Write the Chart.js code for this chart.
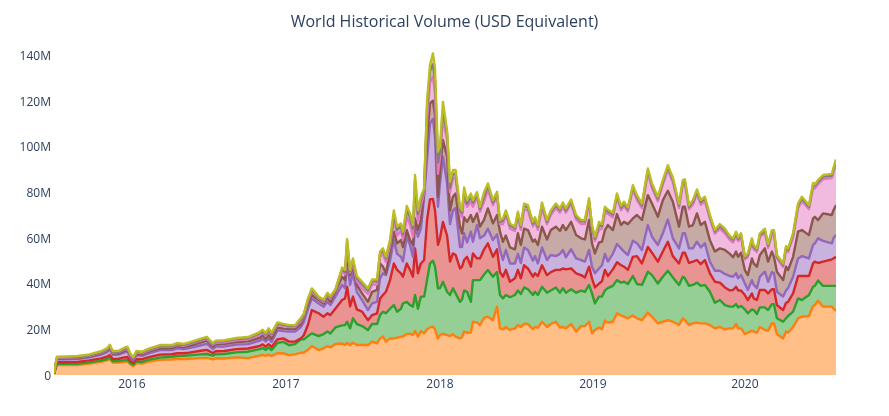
<!DOCTYPE html>
<html>
<head>
<meta charset="utf-8">
<script src="https://cdn.jsdelivr.net/npm/chart.js@4/dist/chart.umd.min.js"></script>
<style>html,body{margin:0;padding:0;background:#fff}canvas{display:block}</style>
</head>
<body>
<canvas id="c" width="889" height="416" style="width:889px;height:416px"></canvas>
<script>
const chartTitle = 'World Historical Volume (USD Equivalent)';
const yearLabels = ['2016','2017','2018','2019','2020'];
const yearWeeks = [26.5,78.9,131.3,183.3,235];
const weeks = [
0,1,4,8,12,16,18,19,20,22,
24,25,26,27,28,30,32,36,40,42,
44,46,50,52,54,55,58,62,66,70,
71,72,73,74,76,78,80,82,84,85,
86.4,87.7,90,91.7,93,94,95.7,98,99,99.7,
100.7,101.7,103,104.8,106.8,108.2,109.9,110.9,111.9,112.9,
114.3,115.6,116.7,118,118.7,120,121.1,122.1,122.8,123.8,
124.8,125.9,126.9,127.9,128.9,129.6,130.6,131.3,132.3,133.7,
134.7,135.7,136.6,138.1,138.8,139.5,140.5,141.8,142.5,143.9,
144.9,146.3,147.6,149.3,150.7,151.7,152.7,153.7,155.1,156.8,
157.8,158.8,159.9,161.2,162.9,163.6,164.6,166,167.7,169,
170.7,172.1,173.1,174.1,175.9,177.6,179.3,180.6,182,183,
184,185.4,186.4,187.4,188.4,190.1,191.5,192.9,193.9,195.2,
196.9,198.3,200,202,203.4,205.4,207.1,208.8,210.5,212.6,
213.9,214.6,216,217.3,218.7,220,221.4,223.1,224.8,226.5,
228.2,229.9,231,232,232.7,233.7,235,236,237.4,238,
239.1,240.1,241.8,242.9,244.2,244.9,245.9,248,249,249.7,
251.4,253.1,254.4,256.8,258.2,258.8,259.9,261.6,264.6,265.1,266];
const orange = [
0.4,4.4,4.4,4.4,5.0,5.8,6.4,6.9,5.4,5.4,
5.8,5.9,4.6,3.9,5.2,5.0,5.8,6.6,6.8,7.0,
7.0,7.1,7.4,7.5,6.8,7.3,7.2,7.7,7.4,8.5,
8.8,8.4,8.9,8.3,9.5,9.5,8.7,9.0,9.8,9.8,
11,12.7,10.9,11.7,12.7,12,13.6,13.8,13.1,14.1,
13,14.1,13.1,13.1,13.1,14.6,13.8,16,16.8,14.6,
16,16,16.3,16.8,16.8,18,18,17.5,19.2,16.8,
19.2,18.2,20,20.8,21.1,20,16,17.5,18,17.5,
17,17.8,16.8,16,16.5,19,18.5,18.6,23.3,22.9,
21.9,25,25.5,24,29.9,20.4,20,21,19.7,20.4,
21.9,21,22.3,22.3,20,21,20.7,23.3,21,22.3,
23.3,20.8,21,20.4,22.3,19,21.4,21.4,23.3,18.2,
19.7,20.8,20,23.8,22.9,23.3,27,26,25.5,24.8,
26,24.8,24,27.3,25.5,22.6,23.3,24,23.3,21.9,
24.8,24,21.9,22.6,22.9,22.6,22.6,21.9,20.4,21,
20,20.4,20.4,22.3,20.4,20.4,17.9,18.5,19.4,19,
18.5,21,19.7,19.4,22.6,22.6,17.9,16,19,18.5,
21,24.8,25.5,25.8,30.2,30.6,32.5,29.9,29.9,29.2,28.1];
const green = [
0.5,4.9,4.9,4.9,5.5,6.3,7.0,7.5,6.0,6.1,
6.5,6.6,5.2,4.5,5.9,5.7,6.6,7.6,8.0,8.3,
8.4,8.6,9.0,9.2,8.5,9.1,9.2,9.9,10.2,11.3,
11.8,11,12,10.9,14.0,14.5,13.0,13.5,15.6,15.6,
17,18.2,17,17.9,19,18.2,20.8,21.7,21.8,23.3,
20.4,24.8,22.3,21.4,19.7,22.3,22.3,26.2,27.7,27,
29,30.6,27.7,29,31.3,32,30.6,29.9,35,29,
34.3,34.3,41.5,48.8,50,47.4,37.9,37.9,40.8,36.4,
35,37.9,35.7,32,33,37,36.4,32,41.5,41.5,
41.5,44,45.9,43,45,35,33.5,35,34,35,
37,35.4,38.3,37.5,35,36.4,35,38.6,36,37,
38.3,36,38,36,37.5,36,36.9,36.4,39.4,35.7,
31.3,34.3,34.3,37,38,39,41.5,40.4,40.8,39.8,
43.3,39.8,39.4,45.2,43.7,40,43,45.6,42.7,39.4,
43,42.3,39,39.4,40.4,39,39.4,36.4,31.6,32.8,
30.6,29.9,29.9,31,29.6,30.2,28.7,27,28.7,28.4,
26.7,29.6,29.6,28.4,31,31,24.8,23.3,24.8,25.8,
27.7,33.5,32.8,35,38.6,39,41.3,39,39,39,39];
const red = [
0.6,5.6,5.6,5.7,6.4,7.3,8.0,8.7,7.0,7.1,
7.7,7.9,6.1,5.2,6.9,6.9,7.7,8.9,9.1,9.5,
9.5,9.8,10.6,11.0,9.6,10.4,10.5,11.3,11.6,12.7,
13.4,12.4,13.5,12.3,15.6,16,14.6,14.6,16,17.5,
22,28.4,27,25.5,27,26.2,29,32.8,33.5,38.6,
30,34.3,28.7,27.7,24,26.2,27,33.5,35,36.4,
41.5,48.8,46,44.5,43,48.8,46,43,55.4,44.5,
48.8,50.3,67.8,76.8,77,72,56.9,59.8,67,61,
49.6,53.2,52.5,46.6,47.4,50.3,51.7,47.4,53.2,51,
51,55,57.6,51.7,55,45,43,46,40.8,42.3,
46,42.3,48,46.6,43,44.5,43.3,48,43.7,45,
46,46,46.6,46.2,46.6,44.5,43.7,42.7,47.4,42.3,
38.3,40,41,46,43.3,46.2,49.3,48,47.4,46,
51.7,52,48.8,56,53.5,49.6,54,58.3,52,48.8,
53.5,53.5,49,49.6,50.3,48.5,50.3,44.5,40.8,40.4,
38.3,37,37.2,38.6,37,37,35,32.8,35.7,33.5,
32.8,37.2,37.2,35.7,37.5,37.5,30.6,28.4,31.6,32,
35.7,43.3,43.3,43.3,48.8,49.6,49,49.6,50.6,51,51.7];
const purple = [
0.7,6.9,6.9,7.0,7.7,8.9,10.0,11.2,8.8,8.9,
9.9,10.3,7.6,6.3,8.6,8.4,9.4,10.9,10.9,11.7,
11.3,11.8,13.0,13.6,11.4,12.4,12.5,13.3,13.5,15.0,
15.8,14.7,16,14.5,19.5,19.2,19,19,21,23.3,
29,33.5,31.3,29.9,32,30.6,34.3,39.4,38,50,
39.4,44.5,36.4,32.8,28.4,31.3,32,42.3,44.5,43.7,
50,59,53,51.7,49.6,60.5,56.9,51.7,65.6,60.5,
64,78,94.8,110,112,104,73.6,83.8,95.5,83.8,
66,72,73,56,56,62,58,62.7,58.3,65.6,
59.8,61,64,59,61.5,54.7,50.3,54.7,48.8,48.8,
53,49,55.8,54.7,50,52,48.8,55.8,50.3,52.5,
52,53,54.7,51.5,55,51,50.3,49.6,54.7,47.4,
44.5,46.6,48,53,49.6,53,57.3,55.4,54,52.5,
58.7,57.6,54.7,65.6,60.5,56.9,62,68,59.8,55.4,
62,62,55.4,55.4,58.3,55.8,57.6,49.6,45.6,45.6,
44.2,43.3,43,44.5,42.3,43.7,40,37.2,41.5,39.4,
38,43,45.2,40.8,45,44.5,36.4,34.3,37,38,
43,51,52,51,56.9,57.6,59.8,58.7,57.6,59.8,61.2];
const brown = [
0.8,7.2,7.3,7.4,8.1,9.4,10.6,11.9,9.4,9.5,
10.6,11.0,8.2,6.8,9.3,9.1,10.2,11.7,11.8,12.6,
12.2,12.8,14.3,15.0,12.5,13.4,13.6,14.4,14.7,16.3,
17.3,15.9,17.6,15.9,20.8,20.3,20.2,20.2,22.3,25.5,
31,35,32.8,31.3,34,32,36.4,43,41.5,53,
43.7,47.4,39.4,35.7,32,36.4,37.2,48.8,47.4,44.5,
54,62.7,57.6,59,56,63.4,59,56.9,68.5,63.4,
67.8,79.4,104,118.8,120,113.7,78,89.7,102.8,95.5,
72,78,79.4,64.9,62,69,67,70,67,70.7,
64.9,68,72.9,66.3,70,62.7,58.3,61,55.8,55,
62,56.9,64,63.4,58.3,59.3,56.9,64.9,59.3,63.4,
64.9,63,65.6,63.4,67,61.2,59.8,59.3,67.8,57.6,
53.2,58,58.3,63.4,65.6,63.4,70.4,65.6,67,66,
68.5,70,67.8,78.7,75,69.2,76.5,80.6,75.8,64.9,
73.6,73.6,64.9,65.6,70.7,65.6,67,59,54,55.4,
54.7,53,51.5,54,51.7,53.5,45.9,43.7,51,48.8,
47.4,52.5,55.4,49.6,54,51.7,45.2,41.5,47.4,45.9,
51.7,62.7,63.4,61.2,68.5,69.2,67.8,70.7,70,72,74.3];
const pink = [
0.8,7.5,7.6,7.7,8.4,9.8,11.0,12.4,9.8,10.0,
11.2,11.6,8.6,7.2,9.8,9.6,10.7,12.3,12.4,13.2,
12.8,13.5,15.0,15.8,13.2,14.1,14.3,15.2,15.6,17.5,
18.6,17.1,18.9,17.4,22,21.5,21,21,23.5,26,
32.5,36.5,33.5,32,35,33.4,36.9,45.5,44,56.5,
44.8,49,41,38,35.5,39.5,39.7,52,52.5,49.5,
56.5,68,61,63,59.5,69,66,60.5,80,67.5,
74,80,112,128,130.5,123,88,95,112,103,
80,86,86,70.7,69,78,73.6,75.8,73.6,78,
71.4,76,81,74.3,78,66,66,70,64,63,
69,63.5,72.5,72,65,67,63.5,73,66,70,
73,71,73.5,71,75,68,66,66,75,64,
58.5,63.5,64,71,70.5,69,77.5,72,74,71.5,
81,76.5,73,88.4,81.8,76,83.3,89.8,84.4,73,
83.3,83.6,72.5,74.5,79.2,74.5,76,68.3,61.8,64,
62,59,58,61,58.6,60.3,50.5,51.5,58,55,
53.8,60.3,62.2,55.6,61.5,61.6,51,47.2,54.8,53.8,
60.3,73,76,72.5,82,81.6,83.5,85.7,86.2,88.5,92.5];
const gray = [
0.9,7.7,7.8,7.9,8.6,10.0,11.2,12.7,10.1,10.2,
11.5,11.9,8.9,7.5,10.1,9.9,11.0,12.6,12.7,13.5,
13.2,13.9,15.4,16.2,13.6,14.6,14.8,15.7,16.1,18.2,
19.2,17.7,19.8,17.9,22.5,22,21.4,21.5,24.2,26.4,
33,37.2,33.9,32.5,35.5,34,37.1,46.3,45,58.5,
45.4,50,42.4,39.8,37,41,41,53,54.5,51,
58,70,63.5,65,61.5,72,69,64,85,70.5,
76.5,81,117,133,136,129,93,98,116,105.5,
82,88,88,72,71,80,75,78,75.5,79,
72.6,78,83,75.5,79.3,67,67.5,71,65.5,64.2,
70.6,64.8,74,73.4,66.2,68.2,64.8,74.6,67,71.2,
74.2,72.2,74.8,72,76,69.2,67.2,67.2,76.4,65,
59.6,65.5,65.2,72.8,71.6,70.2,78.6,73.2,75,72.5,
82.2,77.8,74.2,89.6,83,77.2,84.5,91,85.6,74.2,
84.5,84.8,73.6,75.7,80.4,75.7,77.2,69.3,62.8,65.2,
63.2,60.2,59.2,62.1,59.6,61.4,51.4,52.5,59.1,56,
54.8,61.2,63.2,56.6,62.6,62.6,51.8,48.1,55.7,54.7,
61.3,74.2,77.2,73.6,83.2,82.8,84.6,86.8,87.3,89.6,93.6];
const olive = [
0.9,8.0,8.1,8.3,9.0,10.4,11.7,13.2,10.5,10.6,
12.0,12.4,9.3,7.8,10.5,10.2,11.4,13.1,13.1,14.0,
13.6,14.3,15.9,16.7,14.0,15.0,15.2,16.2,16.6,18.8,
19.8,18.3,20.4,18.6,23,22.4,21.8,21.8,25,27,
33.5,37.9,34.3,33,36,34.5,37.4,47,46,59.5,
46,51,43.3,40.8,37.9,41.8,41.8,54,55.4,51.8,
59,72,65,66.3,62.7,74,70.7,65.6,87.5,72.2,
78,81.6,120,135.6,140.7,134,97.7,100,119.5,107,
84.5,89.7,89.7,73.6,72,82,76.5,79.4,76.5,80,
73.6,80,83.8,76.5,80.2,67.8,68.5,72,66.3,64.9,
71.4,65.6,75,74.3,67,69,65.6,75.5,67.8,72,
75,72.9,75.5,72.9,76.8,70,67.8,67.8,77.3,65.6,
60.5,67,66,73.6,72.4,71,79.4,74,75.8,73.3,
83,78.7,75,90.4,83.8,78,85.3,91.8,86.4,75,
85.3,85.6,74.3,76.5,81.2,76.5,78,70,63.4,66,
64,60.8,59.8,62.7,60.2,62,52,53.2,59.8,56.8,
55.4,62,64,57.3,63.4,63.4,52.5,48.8,56.4,55.4,
62,75,78,74.3,84,83.5,85.3,87.5,88,90.4,94.3];

const bands = [orange, green, red, purple, brown, pink, gray, olive];
const lineColors = ['rgb(255,127,14)','rgb(44,160,44)','rgb(214,39,40)','rgb(148,103,189)','rgb(140,86,75)','rgb(227,119,194)','rgb(127,127,127)','rgb(188,189,34)'];
const fillColors = ['rgba(255,127,14,.5)','rgba(44,160,44,.5)','rgba(214,39,40,.5)','rgba(148,103,189,.5)','rgba(140,86,75,.5)','rgba(227,119,194,.5)','rgba(127,127,127,.5)','rgba(188,189,34,.5)'];
const textColor = '#2a3f5f';
const fontName = '"Open Sans", sans-serif';

new Chart(document.getElementById('c'), {
  type: 'line',
  data: {
    datasets: bands.map((band, i) => ({
      data: band.map((v, j) => ({x: weeks[j], y: v})),
      borderColor: lineColors[i],
      backgroundColor: fillColors[i],
      borderWidth: 2.4,
      pointRadius: 0,
      tension: 0,
      borderJoinStyle: 'round',
      fill: i === 0 ? 'origin' : '-1',
      order: bands.length - i
    }))
  },
  options: {
    responsive: false,
    animation: false,
    devicePixelRatio: 1,
    layout: {padding: 0},
    plugins: {
      legend: {display: false},
      tooltip: {enabled: false},
      filler: {drawTime: 'beforeDatasetsDraw'},
      title: {display: true, text: chartTitle, color: textColor,
        font: {family: fontName, size: 16, weight: 'normal'},
        padding: {top: 12.4, bottom: 5.1}}
    },
    scales: {
      x: {
        type: 'linear', min: 0, max: 266,
        grid: {display: false, drawTicks: false}, border: {display: false},
        afterFit: s => { s.height = 41; },
        afterBuildTicks: s => { s.ticks = yearWeeks.map(v => ({value: v})); },
        ticks: {autoSkip: false, maxRotation: 0, color: textColor, padding: 2,
          font: {family: fontName, size: 12},
          callback: v => yearLabels[yearWeeks.indexOf(v)]}
      },
      y: {
        min: 0, max: 148,
        grid: {display: false, drawTicks: false}, border: {display: false},
        afterFit: s => { s.width = 54; },
        ticks: {stepSize: 20, includeBounds: false, color: textColor, padding: 3, labelOffset: 1.5,
          font: {family: fontName, size: 12},
          callback: v => v === 0 ? '0' : v + 'M'}
      },
      rightMargin: {
        position: 'right', axis: 'y',
        grid: {display: false, drawTicks: false}, border: {display: false},
        afterFit: s => { s.width = 53; },
        ticks: {display: false}
      }
    }
  }
});
</script>
</body>
</html>
